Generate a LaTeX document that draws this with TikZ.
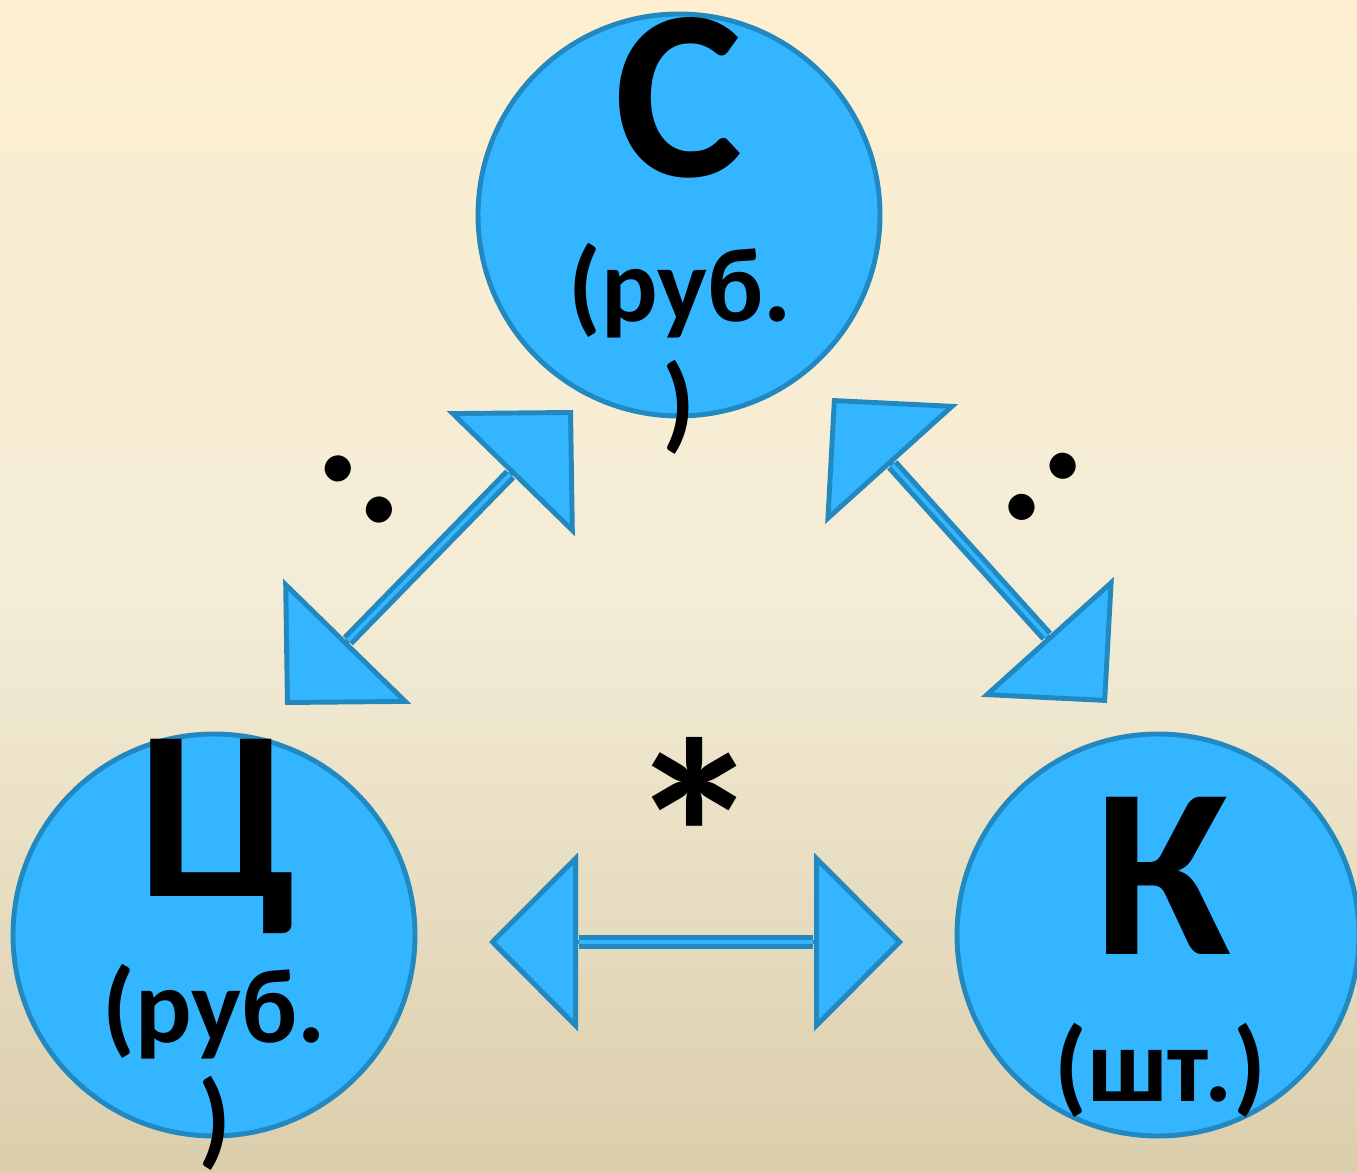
\documentclass[tikz,border=0pt]{standalone}
\usepackage{fontspec}
\setmainfont{Carlito}
\usepackage{tikz}
\usetikzlibrary{arrows.meta}
\definecolor{ballfill}{RGB}{51,181,255}
\definecolor{balledge}{RGB}{34,136,192}
\definecolor{bgtop}{RGB}{253,239,208}
\definecolor{bgmid}{RGB}{243,236,214}
\definecolor{bgbot}{RGB}{219,206,172}

\begin{document}
\begin{tikzpicture}[
  ball/.style={circle, draw=balledge, fill=ballfill, line width=1.4pt,
               minimum size=4.02cm, inner sep=0pt},
  letter/.style={anchor=base, inner sep=0pt,
                 font=\fontsize{69}{69}\selectfont\bfseries},
  unit/.style={anchor=base, inner sep=0pt,
               font=\fontsize{30}{30}\selectfont\bfseries},
  sign/.style={inner sep=0pt, font=\fontsize{50}{50}\selectfont\bfseries},
  heads/.style={draw=balledge, line width=1.4pt,
    {Triangle[length=0.89cm, width=1.78cm, fill=ballfill]}-{Triangle[length=0.89cm, width=1.78cm, fill=ballfill]}},
  shaft/.style={draw=balledge, line width=1.4pt, double=ballfill,
                double distance=1.1pt, shorten <=0.9cm, shorten >=0.9cm},
]
  % background
  \useasboundingbox (0,0) rectangle (13.57,11.72);
  \shade[top color=bgtop, bottom color=bgmid] (0,5.7) rectangle (13.57,11.72);
  \shade[top color=bgmid, bottom color=bgbot] (0,0) rectangle (13.57,5.7);

  % circles
  \node[ball] (cost)  at (6.79,9.57) {};
  \node[ball] (price) at (2.14,2.37) {};
  \node[ball] (qty)   at (11.58,2.37) {};

  % texts
  \node[letter] (costL)  at (6.79,9.95) {С};
  \node[unit]   (costU)  at (6.80,8.50) {(руб.};
  \node[unit]   (costP)  at (6.79,7.33) {)};
  \node[letter] (priceL) at (2.17,2.75) {Ц};
  \node[unit]   (priceU) at (2.14,1.30) {(руб.};
  \node[unit]   (priceP) at (2.15,0.18) {)};
  \node[letter] (qtyL)   at (11.63,2.17) {К};
  \node[unit]   (qtyU)   at (11.60,0.71) {(шт.)};

  % arrow ends
  \coordinate (l1) at (2.85,4.67);
  \coordinate (l2) at (5.73,7.62);
  \coordinate (r1) at (8.32,7.74);
  \coordinate (r2) at (11.07,4.69);
  \coordinate (h1) at (4.89,2.30);
  \coordinate (h2) at (9.03,2.30);

  \draw[heads] (l1) -- (l2);
  \draw[shaft] (l1) -- (l2);
  \draw[heads] (r1) -- (r2);
  \draw[shaft] (r1) -- (r2);
  \draw[heads] (h1) -- (h2);
  \draw[shaft] (h1) -- (h2);

  % operation signs
  \node[sign, rotate=45]  (divL) at (3.59,6.83) {:};
  \node[sign, rotate=-45] (divR) at (10.43,6.85) {:};
  \node[sign, anchor=base, font=\fontsize{78}{78}\selectfont\bfseries]
    (mult) at (6.95,2.38) {*};
\end{tikzpicture}
\end{document}
